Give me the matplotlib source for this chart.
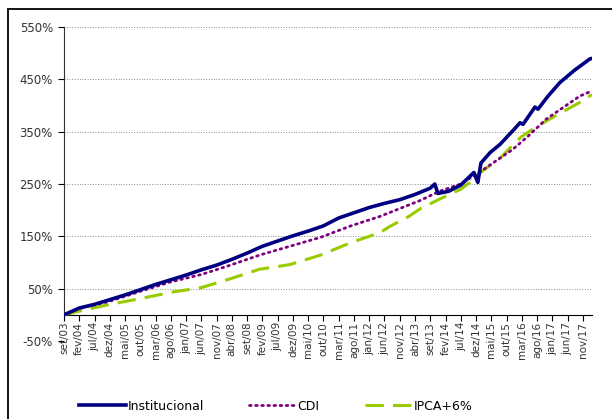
import matplotlib.pyplot as plt
from matplotlib.patches import Rectangle

# x = months since set/03
inst_m = [0, 5, 10, 15, 20, 25, 30, 35, 40, 45, 50, 55, 60, 65, 70, 75, 80, 85,
          90, 95, 100, 105, 110, 115, 120, 121.5, 122.5, 126, 130, 134.3, 135.6,
          136.6, 139.6, 142.9, 147.1, 149.4, 150.4, 154.3, 155.3, 158.6, 162.5,
          167.4, 172.3, 173]
inst_v = [0, 13, 20, 29, 38, 48, 58, 67, 76, 86, 95, 106, 118, 131, 141, 151, 160, 170,
          185, 195, 205, 213, 220, 230, 242, 250, 232, 236, 248, 272, 253,
          290, 310, 326, 352, 367, 364, 397, 393, 418, 444,
          468, 489, 490]

cdi_m = [0, 5, 15, 25, 35, 45, 54, 64, 74, 84, 94, 103.5, 113, 116.5, 123, 130, 136,
         147, 152, 158, 165, 169, 173]
cdi_v = [0, 12, 26, 45, 63, 77, 94, 114, 131, 148, 170, 188, 210, 218, 236, 250, 272,
         316, 341, 374, 402, 418, 428]

ipca_m = [0, 5, 15, 25, 35, 45, 54, 64, 74, 84, 94, 103.5, 106.8, 113, 116.5, 123, 130,
          133, 136, 143, 148, 150, 155, 160, 165, 169, 173]
ipca_v = [0, 7, 20, 31, 43, 52, 68, 87, 96, 114, 138, 157, 169, 188, 202, 221, 240,
          253, 270, 300, 330, 341, 360, 377, 393, 406, 421]

tick_labels = ['set/03', 'fev/04', 'jul/04', 'dez/04', 'mai/05', 'out/05', 'mar/06',
               'ago/06', 'jan/07', 'jun/07', 'nov/07', 'abr/08', 'set/08', 'fev/09',
               'jul/09', 'dez/09', 'mai/10', 'out/10', 'mar/11', 'ago/11', 'jan/12',
               'jun/12', 'nov/12', 'abr/13', 'set/13', 'fev/14', 'jul/14', 'dez/14',
               'mai/15', 'out/15', 'mar/16', 'ago/16', 'jan/17', 'jun/17', 'nov/17']
y_ticks = [-50, 50, 150, 250, 350, 450, 550]

W, H = 612, 419
fig = plt.figure(figsize=(W / 100, H / 100), dpi=100)
ax = fig.add_axes([64 / W, 1 - 341 / H, (592 - 64) / W, (341 - 27) / H])

# outer frame
fig.add_artist(Rectangle((7.5 / W, -0.1), 1.2, 1 - 9.5 / H + 0.1, transform=fig.transFigure,
                         fill=False, edgecolor='black', lw=1.3, clip_on=False))

ax.plot(ipca_m, ipca_v, color='#99CC00', lw=2.2, dashes=(6, 3), label='IPCA+6%', zorder=3)
ax.plot(cdi_m, cdi_v, color='#800080', lw=2.0, dashes=(0.6, 1.6), dash_capstyle='round',
        label='CDI', zorder=4)
ax.plot(inst_m, inst_v, color='#000080', lw=2.6, label='Institucional', zorder=5)

# spines first: moving the bottom spine resets the tick labels
for s in ['top', 'right']:
    ax.spines[s].set_visible(False)
ax.spines['bottom'].set_position(('data', 0))
ax.spines['left'].set_bounds(0, 550)
ax.spines['left'].set_color('#333333')

ax.set_xlim(0, 173)
ax.set_ylim(-50, 550)
ax.set_yticks(y_ticks)
ax.set_yticklabels([f'{v}%' for v in y_ticks], fontsize=8.5, color='#333333')
ax.set_xticks(range(0, 5 * len(tick_labels), 5))
ax.set_xticklabels(tick_labels, rotation=90, fontsize=7.5, color='#333333', va='top')
ax.tick_params(axis='x', direction='out', length=4, width=0.8, pad=1)
ax.tick_params(axis='y', direction='out', length=4, width=0.8, pad=4)

ax.grid(axis='y', linestyle=':', color='#888888', lw=0.7)
ax.set_axisbelow(True)

handles, labels = ax.get_legend_handles_labels()
order = [2, 1, 0]
fig.legend([handles[i] for i in order], [labels[i] for i in order],
           loc='center', bbox_to_anchor=(0.45, 1 - 406 / H), ncol=3, frameon=False,
           fontsize=9, handlelength=3.8, handletextpad=0.1, columnspacing=3.6)

fig.savefig('out.png', dpi=100)
